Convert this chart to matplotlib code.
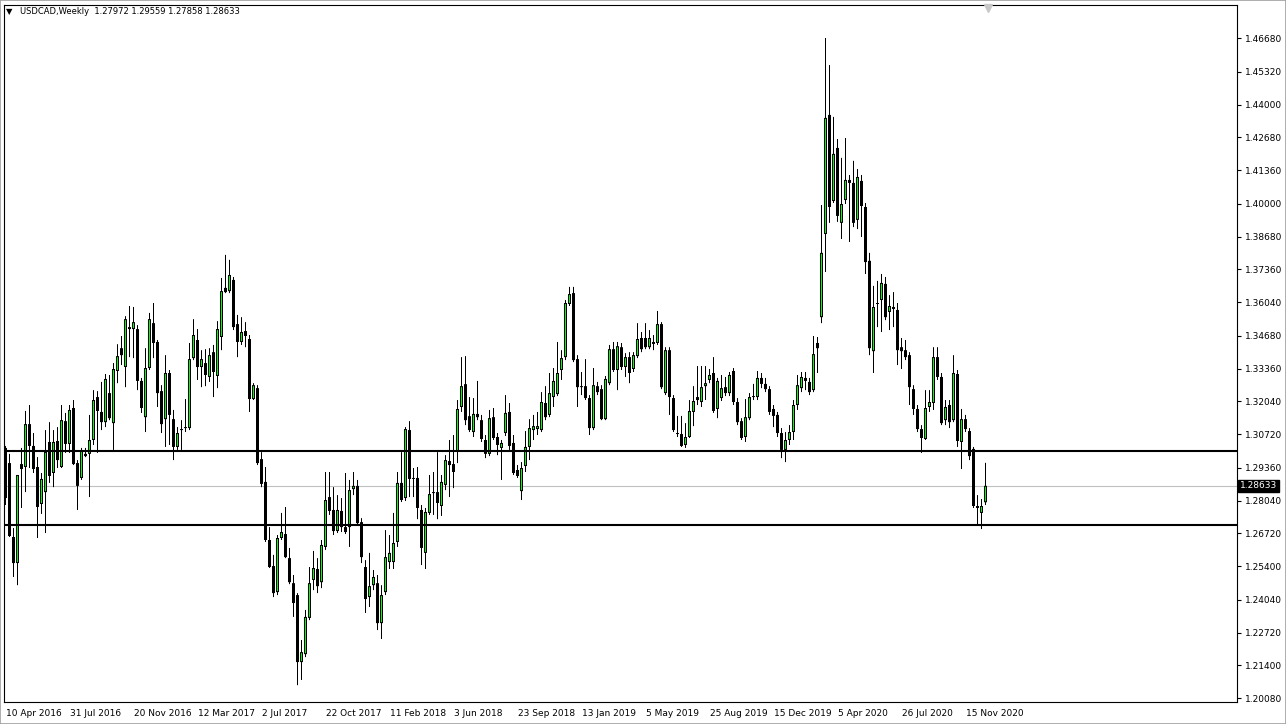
import numpy as np
import matplotlib
matplotlib.use("Agg")
from matplotlib import pyplot as plt
from matplotlib.patches import Rectangle
from matplotlib.transforms import blended_transform_factory

# weekly USDCAD candles, one per week from 10 Apr 2016
opens = [1.3016, 1.2955, 1.2657, 1.2552, 1.2951, 1.2939, 1.3112, 1.3024, 1.2939, 1.2790,
         1.2838, 1.3040, 1.2915, 1.3044, 1.2939, 1.3124, 1.3032, 1.3177, 1.2955, 1.2895,
         1.2992, 1.2992, 1.3048, 1.3221, 1.3161, 1.3120, 1.3237, 1.3116, 1.3326, 1.3418,
         1.3342, 1.3503, 1.3495, 1.3495, 1.3286, 1.3140, 1.3338, 1.3519, 1.3443, 1.3245,
         1.3132, 1.3318, 1.3132, 1.3020, 1.3092, 1.3096, 1.3096, 1.3378, 1.3451, 1.3342,
         1.3358, 1.3302, 1.3402, 1.3306, 1.3463, 1.3661, 1.3648, 1.3693, 1.3515, 1.3443,
         1.3487, 1.3455, 1.3213, 1.3257, 1.2971, 1.2879, 1.2645, 1.2540, 1.2435, 1.2653,
         1.2669, 1.2572, 1.2471, 1.2423, 1.2153, 1.2185, 1.2331, 1.2484, 1.2528, 1.2475,
         1.2617, 1.2818, 1.2766, 1.2681, 1.2762, 1.2697, 1.2697, 1.2850, 1.2863, 1.2717,
         1.2536, 1.2415, 1.2463, 1.2471, 1.2310, 1.2435, 1.2556, 1.2556, 1.2637, 1.2875,
         1.2814, 1.3088, 1.2895, 1.2895, 1.2766, 1.2593, 1.2754, 1.2834, 1.2838, 1.2782,
         1.2867, 1.2963, 1.2951, 1.3000, 1.3181, 1.3273, 1.3144, 1.3080, 1.3153, 1.3128,
         1.3048, 1.2992, 1.3140, 1.3060, 1.3016, 1.3076, 1.3161, 1.3036, 1.2927, 1.2842,
         1.2943, 1.3020, 1.3088, 1.3092, 1.3088, 1.3197, 1.3149, 1.3221, 1.3233, 1.3330,
         1.3382, 1.3596, 1.3640, 1.3374, 1.3265, 1.3265, 1.3217, 1.3096, 1.3265, 1.3253,
         1.3132, 1.3277, 1.3414, 1.3330, 1.3422, 1.3342, 1.3382, 1.3334, 1.3386, 1.3459,
         1.3459, 1.3422, 1.3443, 1.3439, 1.3515, 1.3237, 1.3410, 1.3217, 1.3076, 1.3072,
         1.3028, 1.3060, 1.3161, 1.3221, 1.3201, 1.3265, 1.3290, 1.3318, 1.3173, 1.3217,
         1.3261, 1.3237, 1.3326, 1.3201, 1.3124, 1.3060, 1.3136, 1.3225, 1.3221, 1.3298,
         1.3274, 1.3253, 1.3173, 1.3149, 1.3076, 1.3008, 1.3048, 1.3080, 1.3189, 1.3257,
         1.3298, 1.3282, 1.3249, 1.3439, 1.3543, 1.3878, 1.4358, 1.4011, 1.4225, 1.3923,
         1.4015, 1.4096, 1.4084, 1.3935, 1.4092, 1.3987, 1.3770, 1.3406, 1.3600, 1.3612,
         1.3677, 1.3564, 1.3584, 1.3572, 1.3422, 1.3410, 1.3390, 1.3253, 1.3173, 1.3092,
         1.3052, 1.3181, 1.3197, 1.3382, 1.3302, 1.3128, 1.3189, 1.3128, 1.3314, 1.3040,
         1.3132, 1.3084, 1.3012, 1.2782, 1.2754, 1.27972]
highs = [1.3024, 1.2992, 1.2693, 1.2907, 1.3016, 1.3165, 1.3189, 1.3076, 1.2979, 1.2915,
         1.3088, 1.3120, 1.3088, 1.3100, 1.3189, 1.3157, 1.3189, 1.3209, 1.2967, 1.3016,
         1.3016, 1.3149, 1.3249, 1.3245, 1.3282, 1.3314, 1.3310, 1.3358, 1.3434, 1.3467,
         1.3547, 1.3588, 1.3584, 1.3511, 1.3298, 1.3418, 1.3560, 1.3600, 1.3451, 1.3269,
         1.3390, 1.3330, 1.3169, 1.3100, 1.3128, 1.3213, 1.3439, 1.3535, 1.3495, 1.3410,
         1.3414, 1.3418, 1.3431, 1.3527, 1.3701, 1.3794, 1.3774, 1.3705, 1.3552, 1.3543,
         1.3523, 1.3471, 1.3277, 1.3269, 1.2999, 1.2939, 1.2697, 1.2585, 1.2665, 1.2754,
         1.2778, 1.2613, 1.2504, 1.2431, 1.2242, 1.2363, 1.2536, 1.2601, 1.2572, 1.2645,
         1.2919, 1.2919, 1.2858, 1.2826, 1.2814, 1.2915, 1.2887, 1.2919, 1.2887, 1.2733,
         1.2564, 1.2593, 1.2524, 1.2504, 1.2463, 1.2685, 1.2665, 1.2754, 1.2919, 1.2999,
         1.3100, 1.3124, 1.2935, 1.2939, 1.2786, 1.2774, 1.2907, 1.2919, 1.2999, 1.2907,
         1.2987, 1.3048, 1.3068, 1.3209, 1.3382, 1.3386, 1.3221, 1.3217, 1.3286, 1.3149,
         1.3068, 1.3169, 1.3177, 1.3076, 1.3048, 1.3229, 1.3197, 1.3068, 1.2947, 1.2959,
         1.3084, 1.3132, 1.3149, 1.3161, 1.3241, 1.3265, 1.3318, 1.3338, 1.3443, 1.3410,
         1.3612, 1.3665, 1.3665, 1.3390, 1.3322, 1.3374, 1.3229, 1.3338, 1.3282, 1.3269,
         1.3306, 1.3431, 1.3443, 1.3443, 1.3439, 1.3398, 1.3402, 1.3402, 1.3519, 1.3483,
         1.3519, 1.3491, 1.3471, 1.3568, 1.3523, 1.3422, 1.3422, 1.3229, 1.3145, 1.3145,
         1.3116, 1.3209, 1.3265, 1.3346, 1.3346, 1.3346, 1.3334, 1.3382, 1.3298, 1.3310,
         1.3302, 1.3322, 1.3338, 1.3217, 1.3136, 1.3213, 1.3237, 1.3274, 1.3326, 1.3318,
         1.3298, 1.3265, 1.3189, 1.3161, 1.3096, 1.3080, 1.3108, 1.3209, 1.3310, 1.3322,
         1.3322, 1.3298, 1.3467, 1.3463, 1.3995, 1.4668, 1.4559, 1.4350, 1.4261, 1.4185,
         1.4265, 1.4116, 1.4173, 1.4140, 1.4116, 1.4003, 1.3802, 1.3669, 1.3689, 1.3717,
         1.3705, 1.3632, 1.3644, 1.3600, 1.3459, 1.3451, 1.3402, 1.3269, 1.3189, 1.3108,
         1.3249, 1.3249, 1.3422, 1.3422, 1.3318, 1.3209, 1.3209, 1.3390, 1.3330, 1.3173,
         1.3149, 1.3096, 1.3020, 1.2826, 1.2810, 1.29559]
lows = [1.2786, 1.2657, 1.2496, 1.2463, 1.2774, 1.2838, 1.2935, 1.2915, 1.2653, 1.2750,
        1.2673, 1.2875, 1.2858, 1.2935, 1.2935, 1.2996, 1.2996, 1.2947, 1.2766, 1.2887,
        1.2979, 1.2818, 1.3028, 1.2996, 1.3088, 1.3100, 1.3128, 1.3008, 1.3277, 1.3350,
        1.3261, 1.3382, 1.3378, 1.3249, 1.3157, 1.3080, 1.3330, 1.3378, 1.3181, 1.3076,
        1.3020, 1.3028, 1.2967, 1.3008, 1.3008, 1.3080, 1.3088, 1.3370, 1.3290, 1.3261,
        1.3265, 1.3282, 1.3221, 1.3257, 1.3410, 1.3640, 1.3640, 1.3491, 1.3382, 1.3431,
        1.3422, 1.3161, 1.3209, 1.2947, 1.2858, 1.2637, 1.2532, 1.2415, 1.2423, 1.2645,
        1.2572, 1.2467, 1.2335, 1.2060, 1.2081, 1.2173, 1.2322, 1.2443, 1.2431, 1.2451,
        1.2605, 1.2746, 1.2665, 1.2673, 1.2677, 1.2669, 1.2617, 1.2826, 1.2705, 1.2552,
        1.2351, 1.2375, 1.2443, 1.2282, 1.2246, 1.2423, 1.2528, 1.2528, 1.2617, 1.2798,
        1.2802, 1.2818, 1.2818, 1.2729, 1.2544, 1.2528, 1.2746, 1.2746, 1.2729, 1.2742,
        1.2846, 1.2818, 1.2854, 1.2955, 1.3161, 1.3108, 1.3080, 1.3060, 1.3128, 1.3040,
        1.2975, 1.2983, 1.3048, 1.2987, 1.2887, 1.3064, 1.3008, 1.2907, 1.2895, 1.2806,
        1.2919, 1.2967, 1.3048, 1.3068, 1.3080, 1.3128, 1.3140, 1.3181, 1.3225, 1.3290,
        1.3370, 1.3588, 1.3362, 1.3181, 1.3229, 1.3209, 1.3068, 1.3088, 1.3229, 1.3128,
        1.3128, 1.3269, 1.3322, 1.3249, 1.3330, 1.3302, 1.3277, 1.3322, 1.3378, 1.3402,
        1.3414, 1.3414, 1.3410, 1.3431, 1.3253, 1.3229, 1.3149, 1.3080, 1.3060, 1.3020,
        1.3016, 1.3056, 1.3104, 1.3189, 1.3181, 1.3209, 1.3277, 1.3157, 1.3136, 1.3205,
        1.3225, 1.3225, 1.3189, 1.3108, 1.3048, 1.3040, 1.3128, 1.3209, 1.3209, 1.3257,
        1.3241, 1.3149, 1.3100, 1.3060, 1.2975, 1.2959, 1.3028, 1.3048, 1.3169, 1.3241,
        1.3249, 1.3229, 1.3241, 1.3318, 1.3519, 1.3725, 1.3923, 1.4003, 1.3927, 1.3858,
        1.3999, 1.3846, 1.3906, 1.3898, 1.3866, 1.3717, 1.3390, 1.3318, 1.3503, 1.3483,
        1.3531, 1.3491, 1.3503, 1.3350, 1.3334, 1.3370, 1.3189, 1.3149, 1.3080, 1.2996,
        1.3048, 1.3161, 1.3169, 1.3290, 1.3108, 1.3108, 1.3096, 1.3120, 1.3020, 1.2931,
        1.3080, 1.2967, 1.2774, 1.2705, 1.2689, 1.27858]
closes = [1.2814, 1.2661, 1.2552, 1.2907, 1.2931, 1.3112, 1.3024, 1.2931, 1.2778, 1.2891,
          1.3000, 1.2903, 1.3040, 1.2967, 1.3128, 1.3032, 1.3169, 1.2951, 1.2863, 1.3004,
          1.2983, 1.3048, 1.3209, 1.3165, 1.3120, 1.3294, 1.3136, 1.3334, 1.3386, 1.3390,
          1.3535, 1.3495, 1.3523, 1.3286, 1.3177, 1.3338, 1.3535, 1.3439, 1.3237, 1.3112,
          1.3318, 1.3149, 1.3020, 1.3076, 1.3088, 1.3100, 1.3374, 1.3471, 1.3342, 1.3374,
          1.3310, 1.3390, 1.3322, 1.3495, 1.3648, 1.3644, 1.3713, 1.3503, 1.3443, 1.3483,
          1.3467, 1.3213, 1.3269, 1.2955, 1.2871, 1.2645, 1.2536, 1.2431, 1.2653, 1.2677,
          1.2576, 1.2475, 1.2391, 1.2153, 1.2193, 1.2335, 1.2471, 1.2532, 1.2459, 1.2625,
          1.2806, 1.2762, 1.2681, 1.2766, 1.2697, 1.2677, 1.2846, 1.2863, 1.2713, 1.2576,
          1.2407, 1.2459, 1.2496, 1.2310, 1.2423, 1.2576, 1.2593, 1.2633, 1.2875, 1.2806,
          1.3092, 1.2891, 1.2891, 1.2774, 1.2613, 1.2758, 1.2830, 1.2838, 1.2794, 1.2879,
          1.2967, 1.2947, 1.2919, 1.3173, 1.3265, 1.3128, 1.3088, 1.3153, 1.3140, 1.3052,
          1.2992, 1.3136, 1.3056, 1.3028, 1.3036, 1.3157, 1.3024, 1.2915, 1.2903, 1.2935,
          1.3020, 1.3096, 1.3104, 1.3104, 1.3201, 1.3140, 1.3237, 1.3286, 1.3318, 1.3378,
          1.3600, 1.3636, 1.3370, 1.3261, 1.3261, 1.3217, 1.3096, 1.3269, 1.3241, 1.3132,
          1.3294, 1.3414, 1.3330, 1.3426, 1.3342, 1.3382, 1.3318, 1.3390, 1.3455, 1.3414,
          1.3422, 1.3459, 1.3435, 1.3515, 1.3261, 1.3410, 1.3221, 1.3088, 1.3072, 1.3024,
          1.3060, 1.3165, 1.3205, 1.3209, 1.3261, 1.3277, 1.3310, 1.3165, 1.3286, 1.3257,
          1.3237, 1.3310, 1.3201, 1.3120, 1.3056, 1.3140, 1.3221, 1.3221, 1.3298, 1.3274,
          1.3253, 1.3161, 1.3145, 1.3076, 1.3008, 1.3048, 1.3080, 1.3189, 1.3269, 1.3302,
          1.3286, 1.3241, 1.3394, 1.3418, 1.3802, 1.4346, 1.3987, 1.4201, 1.3951, 1.3999,
          1.4096, 1.4084, 1.3923, 1.4108, 1.3991, 1.3765, 1.3418, 1.3584, 1.3596, 1.3681,
          1.3543, 1.3588, 1.3576, 1.3410, 1.3406, 1.3382, 1.3261, 1.3173, 1.3092, 1.3056,
          1.3177, 1.3201, 1.3382, 1.3302, 1.3116, 1.3181, 1.3120, 1.3318, 1.3044, 1.3132,
          1.3092, 1.2983, 1.2782, 1.2774, 1.2782, 1.28633]

date_labels = ["10 Apr 2016", "31 Jul 2016", "20 Nov 2016", "12 Mar 2017", "2 Jul 2017",
               "22 Oct 2017", "11 Feb 2018", "3 Jun 2018", "23 Sep 2018", "13 Jan 2019",
               "5 May 2019", "25 Aug 2019", "15 Dec 2019", "5 Apr 2020", "26 Jul 2020",
               "15 Nov 2020"]
label_bars = list(range(0, 16 * len(date_labels), 16))

price_ticks = [1.46680, 1.45320, 1.44000, 1.42680, 1.41360, 1.40000, 1.38680, 1.37360,
               1.36040, 1.34680, 1.33360, 1.32040, 1.30720, 1.29360, 1.28040, 1.26720,
               1.25400, 1.24040, 1.22720, 1.21400, 1.20080]

levels = [1.3003, 1.2706]
last_price = 1.28633

o = np.array(opens)
h = np.array(highs)
l = np.array(lows)
c = np.array(closes)
xs = np.arange(len(o))
up = c >= o

y_lo, y_hi = 1.19921, 1.4801
px = (y_hi - y_lo) / 697   # price per screen pixel

fig = plt.figure(figsize=(12.86, 7.24), dpi=100)
fig.patch.set_facecolor("white")
ax = fig.add_axes([4 / 1286, 22 / 724, 1233 / 1286, 697 / 724])

ax.axhline(last_price, color="#c0c0c0", lw=0.8, zorder=0.5)
for lv in levels:
    ax.axhline(lv, color="black", lw=1.5, zorder=4)

ax.vlines(xs, l, h, color="black", lw=0.72, zorder=2, snap=False)

# body: black block 3 px wide, lime core for rising weeks
lo_b = np.minimum(o, c)
hi_b = np.maximum(o, c)
ht = np.maximum(hi_b - lo_b, px)
ax.bar(xs, ht, bottom=lo_b, width=0.75, color="black", linewidth=0,
       zorder=3, snap=False)
core = up & (hi_b - lo_b > 2.5 * px)
ax.bar(xs[core], (hi_b - lo_b)[core] - 2 * px, bottom=lo_b[core] + px, width=0.25,
       color="#00ff00", linewidth=0, zorder=3.5, snap=False)

ax.set_xlim(-0.375, 307.875)
ax.set_ylim(y_lo, y_hi)

ax.yaxis.tick_right()
ax.set_yticks(price_ticks)
ax.set_yticklabels([f"{v:.5f}" for v in price_ticks])
ax.tick_params(axis="y", direction="out", length=3, width=0.8, labelsize=6.5, pad=3)

ax.set_xticks(label_bars)
ax.set_xticklabels(date_labels)
for lab in ax.get_xticklabels():
    lab.set_ha("left")
ax.tick_params(axis="x", direction="out", length=0, labelsize=6.5, pad=5)

for sp in ax.spines.values():
    sp.set_color("black")
    sp.set_linewidth(0.8)

# current price box on the right scale
tr = blended_transform_factory(ax.transAxes, ax.transData)
ax.text(1.0025, last_price, f"{last_price:.5f}", transform=tr, color="white",
        fontsize=6.5, va="center", ha="left", zorder=6,
        bbox=dict(boxstyle="square,pad=0.2", fc="black", ec="black"))

# header
fig.text(6 / 1286, 1 - 12 / 724, "\u25bc", fontsize=6, va="center", ha="left")
fig.text(20 / 1286, 1 - 12 / 724, "USDCAD,Weekly  1.27972 1.29559 1.27858 1.28633",
         fontsize=6.0, va="center", ha="left")

# chart shift marker
ax.plot([(988 - 4) / 1233], [0.996], marker="v", ms=6, color="#c8c8c8",
        transform=ax.transAxes, clip_on=False, zorder=7)

fig.patches.append(Rectangle((0, 0), 1, 1, transform=fig.transFigure, fill=False,
                             edgecolor="#a0a0a0", lw=1.2))

plt.savefig("out.png", dpi=100)
